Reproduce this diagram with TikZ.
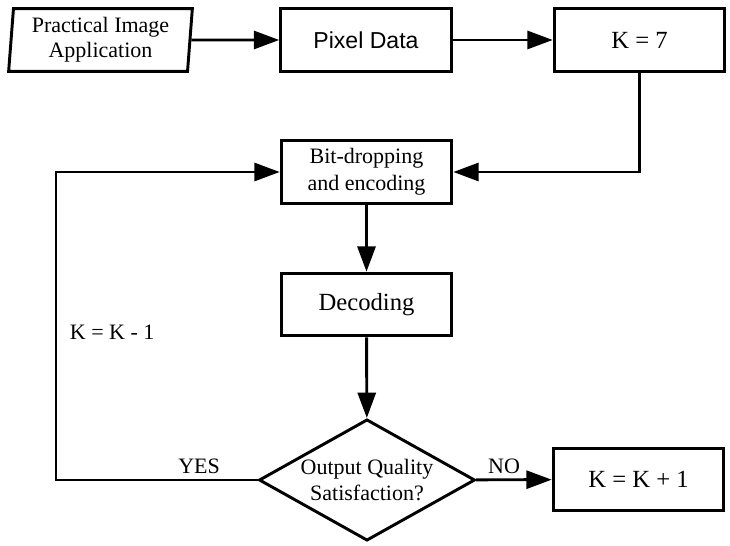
\documentclass[tikz,border=0pt]{standalone}
\usepackage{fontspec}
\setmainfont{Liberation Serif}
\newfontfamily\pixfont{Liberation Sans}
\usetikzlibrary{shapes.geometric,arrows.meta}

\begin{document}
\begin{tikzpicture}[x=0.75pt, y=-0.75pt, line width=2.2pt,
      box/.style={rectangle, draw, minimum width=128pt, minimum height=47pt, inner sep=2pt, align=center, font=\fontsize{16.5}{20}\selectfont},
      big/.style={font=\fontsize{18.5}{22}\selectfont},
      io/.style={trapezium, draw, trapezium left angle=85.5, trapezium right angle=94.5, trapezium stretches=true, minimum width=138pt, minimum height=47pt, inner sep=2pt, align=center, font=\fontsize{16.5}{18.75}\selectfont},
      decision/.style={diamond, draw, shape aspect=1.78, minimum width=162pt, minimum height=91pt, inner sep=0pt, align=center, font=\fontsize{16.5}{19.5}\selectfont},
      flow/.style={-{Triangle[length=19pt, width=13.5pt]}},
      lbl/.style={font=\fontsize{16.5}{20}\selectfont}]
      \useasboundingbox (0,0) rectangle (730,545);
      \node[io] (app) at (100.5,40) {Practical Image\\Application};
      \node[box, font=\pixfont\fontsize{17.3}{20}\selectfont] (pix) at (366,40) {Pixel Data};
      \node[box, big] (k7) at (639.5,40) {K = 7};
      \node[box] (bit) at (366.5,172) {Bit-dropping\\and encoding};
      \node[box, big] (dec) at (366.5,304.5) {Decoding};
      \node[decision] (dia) at (367,480) {Output Quality\\Satisfaction?};
      \node[box, big] (kp1) at (638.5,479.5) {K = K + 1};
      \coordinate (back) at (56,480);

      \draw[flow] (app) -- (pix);
      \draw[flow] (pix) -- (k7);
      \draw[flow] (k7.south) |- (bit.east);
      \draw[flow] (bit) -- (dec);
      \draw[flow] (dec) -- (dia);
      \draw[flow] (dia) -- node[lbl, above, pos=0.37] {NO} (kp1);
      \draw[flow] (dia.west) -- node[lbl, above, pos=0.29] {YES} (back)
        |- node[lbl, right, pos=0.24, xshift=6pt] {K = K - 1} (bit.west);
    \end{tikzpicture}
\end{document}
